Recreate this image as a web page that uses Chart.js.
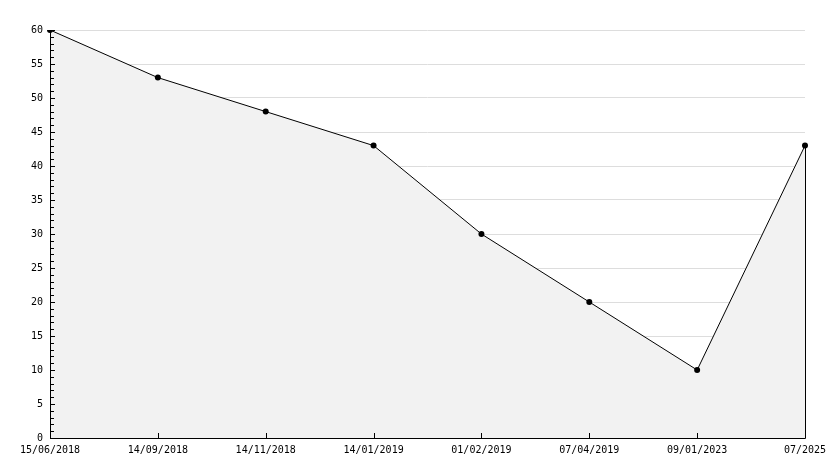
<!DOCTYPE html>
<html>
<head>
<meta charset="utf-8">
<script src="https://cdn.jsdelivr.net/npm/chart.js@4"></script>
<style>
  html, body { margin: 0; padding: 0; background: #fff; }
  #wrap { width: 834px; height: 468px; }
</style>
</head>
<body>
<div id="wrap"><canvas id="chart"></canvas></div>
<script>
// Chart data
const dateLabels = ['15/06/2018', '14/09/2018', '14/11/2018', '14/01/2019', '01/02/2019', '07/04/2019', '09/01/2023', '07/2025'];
const values = [60, 53, 48, 43, 30, 20, 10, 43];
const yMin = 0;
const yMax = 60;
const yMajorStep = 5;

// Draws the small inward tick marks on both axes plus the axis lines
const inwardTicks = {
  id: 'inwardTicks',
  afterDatasetsDraw(chart) {
    const { ctx, chartArea, scales } = chart;
    const x = scales.x, y = scales.y;
    ctx.save();
    ctx.strokeStyle = '#000';
    ctx.lineWidth = 1;
    ctx.beginPath();
    for (let v = yMin; v <= yMax; v++) {
      const py = Math.round(y.getPixelForValue(v)) + 0.5;
      const len = v % yMajorStep === 0 ? 5 : 4;
      ctx.moveTo(chartArea.left, py);
      ctx.lineTo(chartArea.left + len, py);
    }
    dateLabels.forEach((_, i) => {
      const px = Math.round(x.getPixelForValue(i)) + 0.5;
      ctx.moveTo(px, chartArea.bottom);
      ctx.lineTo(px, chartArea.bottom - 5);
    });
    // axis lines
    const left = Math.round(chartArea.left) + 0.5;
    const bottom = Math.round(chartArea.bottom) + 0.5;
    ctx.moveTo(left, chartArea.top);
    ctx.lineTo(left, bottom);
    ctx.lineTo(Math.round(chartArea.right) + 0.5, bottom);
    // right edge of the filled area
    const rx = Math.round(x.getPixelForValue(dateLabels.length - 1)) + 0.5;
    ctx.moveTo(rx, y.getPixelForValue(values[values.length - 1]));
    ctx.lineTo(rx, bottom);
    ctx.stroke();
    ctx.restore();
  }
};

const ctx = document.getElementById('chart').getContext('2d');
new Chart(ctx, {
  type: 'line',
  data: {
    labels: dateLabels,
    datasets: [{
      data: values,
      borderColor: '#000',
      borderWidth: 1,
      backgroundColor: '#f2f2f2',
      fill: 'origin',
      tension: 0,
      pointRadius: 3,
      pointBackgroundColor: '#000',
      pointBorderColor: '#000',
      pointBorderWidth: 0
    }]
  },
  options: {
    responsive: true,
    maintainAspectRatio: false,
    animation: false,
    layout: { padding: { top: 30, right: 29, left: 0, bottom: 0 } },
    plugins: {
      legend: { display: false },
      tooltip: { enabled: false }
    },
    scales: {
      x: {
        offset: false,
        grid: { display: false, drawTicks: false },
        border: { display: false },
        ticks: {
          color: '#000',
          font: { family: 'DejaVu Sans Mono', size: 10 },
          maxRotation: 0,
          autoSkip: false,
          padding: 6
        },
        afterFit(scale) {
          scale.height = 30;
          scale.paddingLeft = 0;
          scale.paddingRight = 0;
        }
      },
      y: {
        min: yMin,
        max: yMax,
        grid: { color: '#dddddd', lineWidth: 1, drawTicks: false },
        border: { display: false },
        ticks: {
          stepSize: yMajorStep,
          color: '#000',
          font: { family: 'DejaVu Sans Mono', size: 10 },
          padding: 7
        },
        afterFit(scale) {
          scale.width = 50;
          scale.paddingTop = 0;
          scale.paddingBottom = 0;
        }
      }
    }
  },
  plugins: [inwardTicks]
});
</script>
</body>
</html>
